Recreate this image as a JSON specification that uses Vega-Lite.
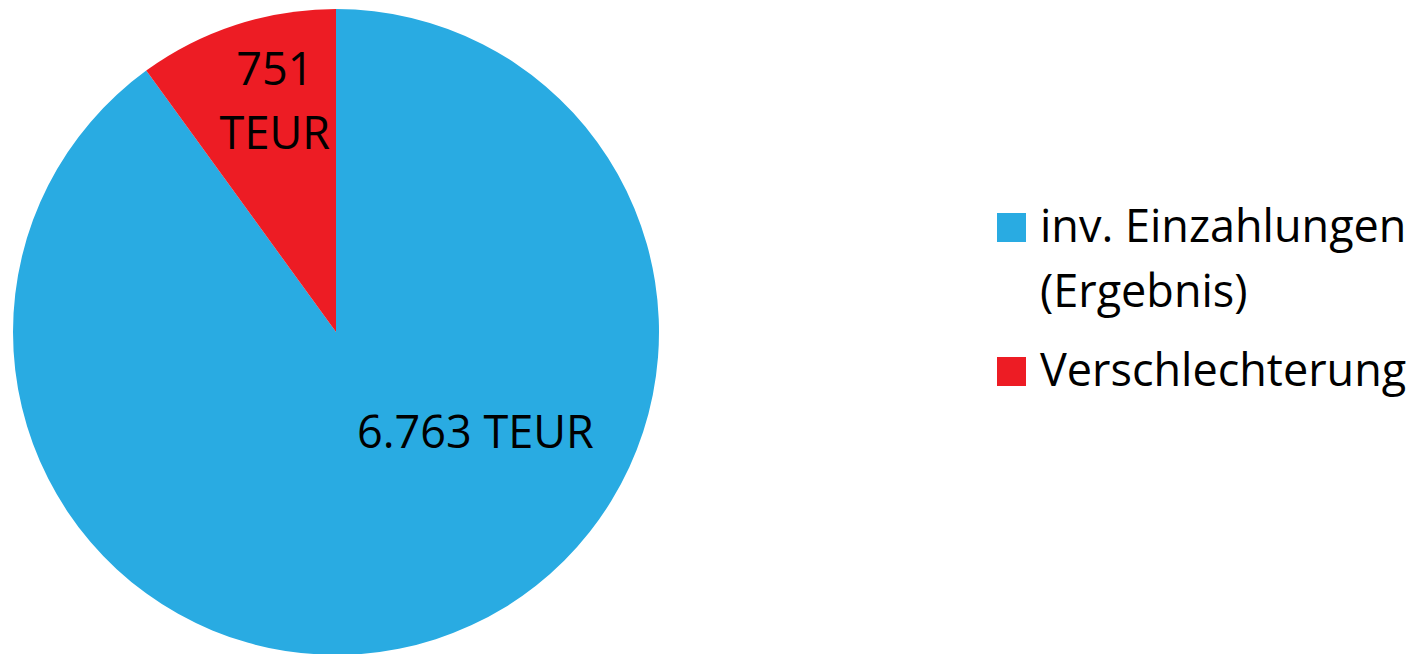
{
  "$schema": "https://vega.github.io/schema/vega-lite/v6.json",
  "width": 672,
  "height": 664,
  "padding": 0,
  "autosize": {"type": "pad"},
  "background": "white",
  "config": {"view": {"stroke": null}, "font": "Open Sans"},
  "data": {
    "values": [
      {"cat": "inv. Einzahlungen (Ergebnis)", "value": 6763, "ord": 1, "label": "6.763 TEUR"},
      {"cat": "Verschlechterung", "value": 751, "ord": 2, "label": "751\nTEUR"}
    ]
  },
  "encoding": {
    "theta": {"field": "value", "type": "quantitative", "stack": true},
    "order": {"field": "ord", "type": "quantitative"}
  },
  "layer": [
    {
      "mark": {"type": "arc", "outerRadius": 323},
      "encoding": {
        "color": {
          "field": "cat",
          "type": "nominal",
          "scale": {"domain": ["inv. Einzahlungen (Ergebnis)", "Verschlechterung"], "range": ["#29ABE2", "#ED1C24"]},
          "legend": {
            "title": null,
            "orient": "none",
            "legendX": 989,
            "legendY": 205,
            "symbolType": "square",
            "symbolSize": 841,
            "symbolStrokeWidth": 0,
            "symbolOpacity": 1,
            "labelFont": "Open Sans",
            "labelFontSize": 45,
            "labelColor": "#000000",
            "labelLimit": 600,
            "labelOffset": 6,
            "labelBaseline": "alphabetic",
            "labelExpr": "datum.label == 'inv. Einzahlungen (Ergebnis)' ? ['inv. Einzahlungen', '(Ergebnis)'] : datum.label",
            "rowPadding": 33,
            "encode": {"labels": {"update": {"dy": {"value": 14}, "lineHeight": {"value": 65}}}}
          }
        }
      }
    },
    {
      "mark": {"type": "text", "radius": 173, "fontSize": 45, "font": "Open Sans", "color": "#000000", "dx": 86, "dy": -63, "align": "center", "baseline": "middle"},
      "encoding": {
        "text": {"condition": {"test": "datum.ord == 1", "field": "label"}, "value": ""}
      }
    },
    {
      "mark": {"type": "text", "radius": 237, "fontSize": 45, "font": "Open Sans", "color": "#000000", "dx": 12, "dy": -36, "align": "center", "baseline": "middle", "lineBreak": "\n", "lineHeight": 64},
      "encoding": {
        "text": {"condition": {"test": "datum.ord == 2", "field": "label"}, "value": ""}
      }
    }
  ]
}
